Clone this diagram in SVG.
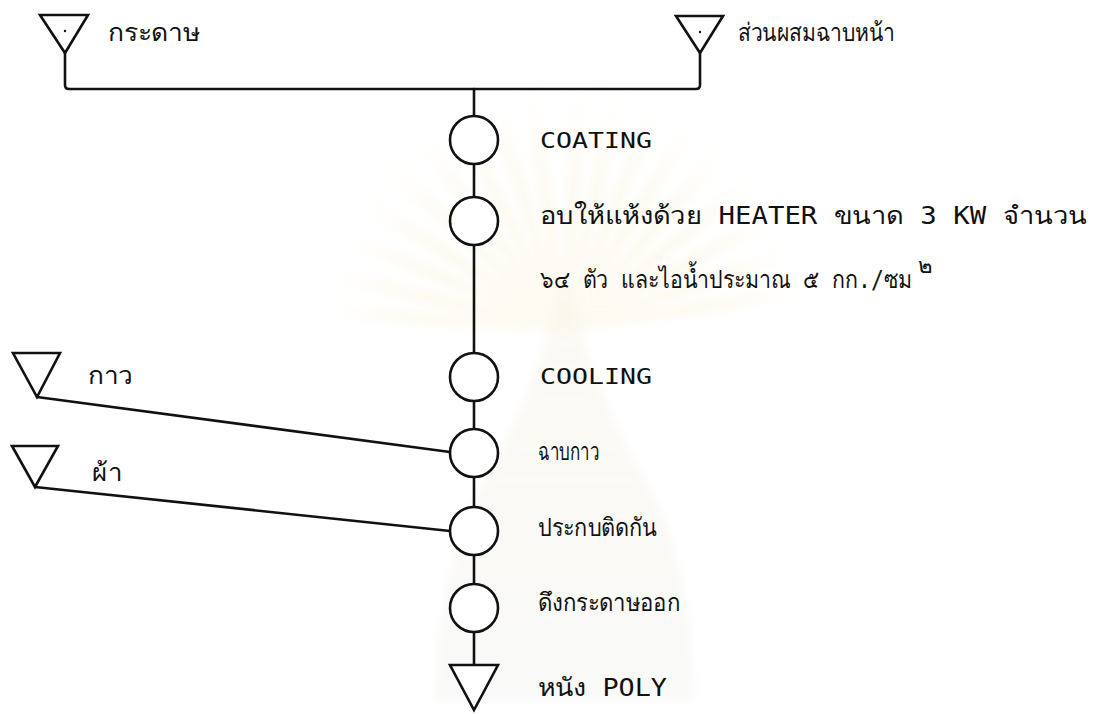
<svg xmlns="http://www.w3.org/2000/svg" width="1096" height="714" viewBox="0 0 1096 714">
  <defs>
    <radialGradient id="rayFade" cx="565" cy="330" r="250" gradientUnits="userSpaceOnUse">
      <stop offset="0" stop-color="#f6e6b8" stop-opacity="0.85"/>
      <stop offset="0.6" stop-color="#f9eed0" stop-opacity="0.65"/>
      <stop offset="1" stop-color="#fdf8ea" stop-opacity="0"/>
    </radialGradient>
    <linearGradient id="crownFade" x1="0" y1="0" x2="0" y2="1">
      <stop offset="0" stop-color="#f3ead0" stop-opacity="0.5"/>
      <stop offset="1" stop-color="#ebebe8" stop-opacity="0.6"/>
    </linearGradient>
    <filter id="soft" x="-10%" y="-10%" width="120%" height="120%">
      <feGaussianBlur stdDeviation="5"/>
    </filter>
  </defs>
  <style>
    .ln { fill: none; stroke: #111; stroke-width: 2.6; stroke-linecap: round; stroke-linejoin: round; }
    .nd { fill: #fff; stroke: #111; stroke-width: 2.6; }
    .tri { fill: #fff; stroke: #111; stroke-width: 2.6; stroke-linejoin: miter; }
    .tx { font-family: "DejaVu Sans Mono", "Liberation Mono", "Noto Sans", sans-serif; font-size: 22px; fill: #111; }
    .th { font-size: 25px; }
    .ray { fill: url(#rayFade); }
  </style>
  <rect width="1096" height="714" fill="#fff"/>

  <!-- faint background emblem: rays and crown -->
  <g id="emblem" opacity="0.5" filter="url(#soft)">
    <g class="ray">
      <path d="M565 330 L320 300 L322 320 Z"/>
      <path d="M565 330 L326 262 L322 283 Z"/>
      <path d="M565 330 L340 222 L332 242 Z"/>
      <path d="M565 330 L362 186 L350 204 Z"/>
      <path d="M565 330 L390 152 L375 168 Z"/>
      <path d="M565 330 L423 124 L406 137 Z"/>
      <path d="M565 330 L460 102 L441 111 Z"/>
      <path d="M565 330 L500 88 L479 93 Z"/>
      <path d="M565 330 L540 82 L519 83 Z"/>
      <path d="M565 330 L590 82 L569 81 Z"/>
      <path d="M565 330 L630 88 L609 84 Z"/>
      <path d="M565 330 L670 100 L650 92 Z"/>
      <path d="M565 330 L707 120 L688 109 Z"/>
      <path d="M565 330 L740 148 L723 134 Z"/>
      <path d="M565 330 L768 182 L754 165 Z"/>
      <path d="M565 330 L790 220 L780 200 Z"/>
      <path d="M565 330 L804 260 L797 239 Z"/>
      <path d="M565 330 L810 300 L808 279 Z"/>
    </g>
    <path d="M565 260 C575 320 600 400 640 470 C670 520 690 580 695 700 L435 700 C440 580 460 520 490 470 C530 400 555 320 565 260 Z" fill="url(#crownFade)"/>
  </g>

  <!-- connectors -->
  <g id="connectors">
    <path class="ln" d="M65 53 V85 Q65 89 69 89 H696 Q700 89 700 85 V53"/>
    <path class="ln" d="M474 89 V687"/>
    <path class="ln" d="M37 397 L450 452"/>
    <path class="ln" d="M35 487 L450 531"/>
  </g>

  <!-- sources -->
  <g id="src-paper">
    <polygon class="tri" points="40,15 88,15 65,53"/>
    <circle cx="65" cy="31" r="1.2" fill="#111"/>
    <text class="tx th" x="108" y="41" textLength="92" lengthAdjust="spacingAndGlyphs">กระดาษ</text>
  </g>
  <g id="src-coat-mix">
    <polygon class="tri" points="676,16 723,16 700,53"/>
    <circle cx="700" cy="32" r="1.2" fill="#111"/>
    <text class="tx th" x="738" y="41" textLength="157" lengthAdjust="spacingAndGlyphs">ส่วนผสมฉาบหน้า</text>
  </g>
  <g id="src-glue">
    <polygon class="tri" points="13,353 60,353 37,397"/>
    <text class="tx th" x="88" y="384" textLength="45" lengthAdjust="spacingAndGlyphs">กาว</text>
  </g>
  <g id="src-cloth">
    <polygon class="tri" points="12,446 58,446 35,487"/>
    <text class="tx th" x="92" y="481" textLength="30" lengthAdjust="spacingAndGlyphs">ผ้า</text>
  </g>

  <!-- process steps -->
  <g id="step-coating">
    <circle class="nd" cx="474" cy="140" r="24"/>
    <text class="tx" x="540" y="148" textLength="112" lengthAdjust="spacingAndGlyphs">COATING</text>
  </g>
  <g id="step-dry">
    <circle class="nd" cx="474" cy="221" r="24"/>
    <text class="tx th" x="540" y="224" textLength="547" lengthAdjust="spacingAndGlyphs">อบให้แห้งด้วย HEATER ขนาด 3 KW จำนวน</text>
    <text class="tx th" x="540" y="288" textLength="372" lengthAdjust="spacingAndGlyphs">๖๔ ตัว และไอน้ำประมาณ ๕ กก./ซม</text>
    <text class="tx" x="918" y="273" font-size="15">๒</text>
  </g>
  <g id="step-cooling">
    <circle class="nd" cx="474" cy="377" r="24"/>
    <text class="tx" x="540" y="384" textLength="112" lengthAdjust="spacingAndGlyphs">COOLING</text>
  </g>
  <g id="step-glue">
    <circle class="nd" cx="474" cy="453" r="24"/>
    <text class="tx th" x="538" y="460" textLength="61" lengthAdjust="spacingAndGlyphs">ฉาบกาว</text>
  </g>
  <g id="step-laminate">
    <circle class="nd" cx="474" cy="531" r="24"/>
    <text class="tx th" x="538" y="536" textLength="119" lengthAdjust="spacingAndGlyphs">ประกบติดกัน</text>
  </g>
  <g id="step-peel">
    <circle class="nd" cx="474" cy="608" r="24"/>
    <text class="tx th" x="538" y="611" textLength="142" lengthAdjust="spacingAndGlyphs">ดึงกระดาษออก</text>
  </g>
  <g id="out-poly">
    <polygon class="tri" points="450,665 498,665 474,710"/>
    <text class="tx th" x="538" y="696" textLength="129" lengthAdjust="spacingAndGlyphs">หนัง POLY</text>
  </g>
</svg>
